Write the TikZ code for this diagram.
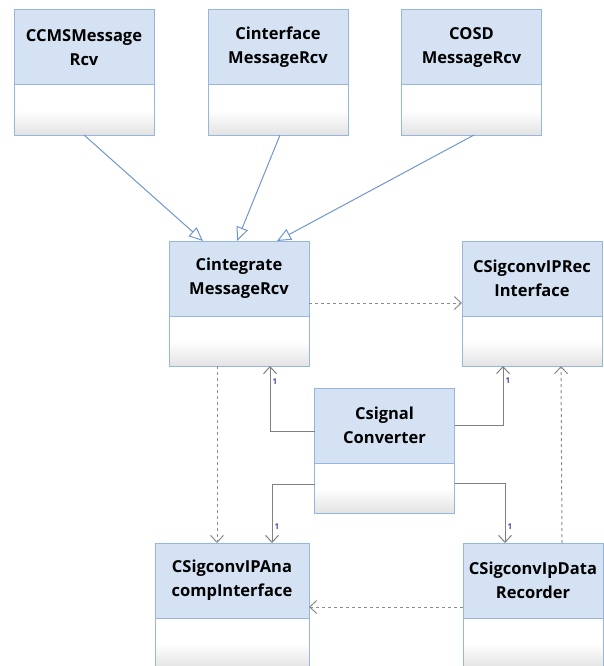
\documentclass[tikz,border=0pt]{standalone}
\usepackage{fontspec}
\setmainfont{Open Sans}
\usetikzlibrary{positioning,arrows.meta}
\definecolor{hdrfill}{RGB}{212,226,243}
\definecolor{boxline}{RGB}{150,182,222}
\definecolor{genline}{RGB}{112,150,206}
\definecolor{multcol}{RGB}{80,70,160}
\tikzset{
  hdr/.style={draw=boxline, fill=hdrfill, line width=1pt, minimum width=140pt, minimum height=75pt,
    inner sep=0pt, outer sep=0pt, align=center, font=\fontsize{16.5}{24}\selectfont\bfseries},
  bdy/.style={draw=boxline, line width=1pt, minimum width=140pt, minimum height=50pt, inner sep=0pt,
    outer sep=0pt, top color=white, bottom color=black!11, middle color=white},
  gen/.style={draw=genline, line width=1pt, -{Triangle[open, length=14pt, width=12pt]}},
  assoc/.style={draw=black!50, line width=1pt, -{Straight Barb[length=7pt, width=13pt]}},
  dep/.style={draw=black!45, line width=1pt, dash pattern=on 3pt off 3pt, -{Straight Barb[length=7pt, width=13pt]}},
  one/.style={font=\fontsize{8}{9}\selectfont\bfseries, text=multcol, inner sep=2pt}
}
\begin{document}
\begin{tikzpicture}[x=1pt, y=-1pt]
\clip (0,0) rectangle (604,666);
% top row
\node[hdr] (cms) at (84,47.5) {CCMSMessage\\Rcv};
\node[bdy, below=0pt of cms] (cmsb) {};
\node[hdr] (ifc) at (278,47.5) {Cinterface\\MessageRcv};
\node[bdy, below=0pt of ifc] (ifcb) {};
\node[hdr] (osd) at (471.5,47.5) {COSD\\MessageRcv};
\node[bdy, below=0pt of osd] (osdb) {};
% middle
\node[hdr] (cint) at (239,278.5) {Cintegrate\\MessageRcv};
\node[bdy, below=0pt of cint] (cintb) {};
\node[hdr] (rec) at (532,278.5) {CSigconvIPRec\\Interface};
\node[bdy, below=0pt of rec] (recb) {};
\node[hdr] (sig) at (384.5,425.5) {Csignal\\Converter};
\node[bdy, below=0pt of sig] (sigb) {};
% bottom row
\node[hdr, minimum width=154pt] (ana) at (232,580.5) {CSigconvIPAna\\compInterface};
\node[bdy, minimum width=154pt, below=0pt of ana] (anab) {};
\node[hdr] (rcd) at (533,580.5) {CSigconvIpData\\Recorder};
\node[bdy, below=0pt of rcd] (rcdb) {};

% generalization
\draw[gen] (cmsb.south) -- ([xshift=-36pt]cint.north);
\draw[gen] ([xshift=2pt]ifcb.south) -- ([xshift=-2pt]cint.north);
\draw[gen] ([xshift=2.5pt]osdb.south) -- ([xshift=38pt]cint.north);

% associations
\draw[assoc] ([yshift=-5.5pt]sig.west) -| ([xshift=31pt]cintb.south) node[one, pos=.88, right] {1};
\draw[assoc] (sig.east) -| ([xshift=-29pt]recb.south) node[one, pos=.88, right] {1};
\draw[assoc] ([yshift=4pt]sigb.west) -| ([xshift=40pt]ana.north) node[one, pos=.86, right] {1};
\draw[assoc] ([yshift=5pt]sigb.east) -| ([xshift=-28pt]rcd.north) node[one, pos=.86, right] {1};

% dependencies
\draw[dep] ([yshift=-24.5pt]cint.east) -- ([yshift=-24.5pt]rec.west);
\draw[dep] ([xshift=-22pt]cintb.south) -- ([xshift=-15pt]ana.north);
\draw[dep] ([xshift=29pt]rcd.north) -- ([xshift=29pt]recb.south);
\draw[dep] ([yshift=-26.5pt]rcd.west) -- ([yshift=-26.5pt]ana.east);
\end{tikzpicture}
\end{document}
